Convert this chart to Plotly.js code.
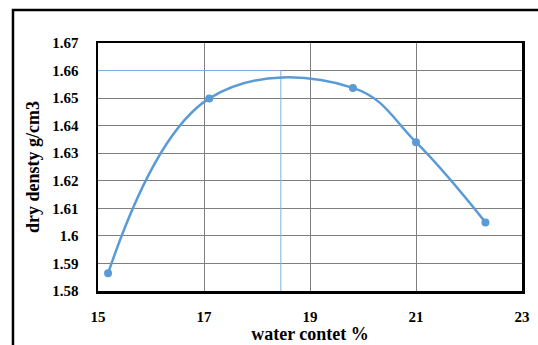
<!DOCTYPE html>
<html>
<head>
<meta charset="utf-8">
<script src="https://cdn.plot.ly/plotly-3.0.1.min.js"></script>
<style>
  html, body { margin: 0; padding: 0; background: #ffffff; }
  #chart { width: 538px; height: 345px; }
</style>
</head>
<body>
<div id="chart"></div>
<script>
// Compaction test: water content (%) vs dry density (g/cm3)
const waterContent = [15.19, 17.10, 19.81, 21.00, 22.31];
const dryDensity = [1.5864, 1.6499, 1.6537, 1.6340, 1.6049];

// Optimum water content and maximum dry density
const optimumWater = [18.45];
const maxDensity = [1.66];

const xTicks = [15, 17, 19, 21, 23];
const yTicks = [1.58, 1.59, 1.6, 1.61, 1.62, 1.63, 1.64, 1.65, 1.66, 1.67];
const yTickText = ['1.58', '1.59', '1.6', '1.61', '1.62', '1.63', '1.64', '1.65', '1.66', '1.67'];

const blue = '#5B9BD5';
const serif = 'Liberation Serif, Times New Roman, serif';

const traces = [
  {
    // guide lines to the optimum point
    x: [xTicks[0], optimumWater[0], optimumWater[0]],
    y: [maxDensity[0], maxDensity[0], yTicks[0]],
    mode: 'lines',
    line: { color: '#7fb0e0', width: 1 },
    hoverinfo: 'skip',
    showlegend: false
  },
  {
    x: waterContent,
    y: dryDensity,
    mode: 'lines+markers',
    line: { color: blue, width: 2.5, shape: 'spline', smoothing: 1.15 },
    marker: { color: blue, size: 8 },
    showlegend: false
  }
];

const layout = {
  width: 538,
  height: 345,
  margin: { l: 98, r: 16, t: 43, b: 54 },
  paper_bgcolor: '#ffffff',
  plot_bgcolor: '#ffffff',
  font: { family: serif, color: '#000000', size: 14 },
  xaxis: {
    range: [15, 23],
    tickvals: xTicks,
    ticktext: xTicks.map(String),
    tickfont: { family: serif, size: 15, weight: 'bold' },
    showgrid: true,
    gridcolor: '#7f7f7f',
    gridwidth: 1,
    zeroline: false,
    showline: true,
    mirror: true,
    linecolor: '#000000',
    linewidth: 2.5,
    ticks: '',
    ticklabelstandoff: 10,
    title: { text: 'water contet %', font: { family: serif, size: 18, weight: 'bold' }, standoff: 1 }
  },
  yaxis: {
    range: [1.58, 1.67],
    tickvals: yTicks,
    ticktext: yTickText,
    tickfont: { family: serif, size: 15, weight: 'bold' },
    showgrid: true,
    gridcolor: '#7f7f7f',
    gridwidth: 1,
    zeroline: false,
    showline: true,
    mirror: true,
    linecolor: '#000000',
    linewidth: 2.5,
    ticks: '',
    ticklabelstandoff: 14,
    title: { text: 'dry densty g/cm3', font: { family: serif, size: 18, weight: 'bold' }, standoff: 8 }
  },
  shapes: [
    {
      // outer chart frame (top and left edges)
      type: 'path',
      xref: 'paper', yref: 'paper',
      path: 'M -0.2005,-0.4 L -0.2005,1.133 L 1.2,1.133',
      line: { color: '#000000', width: 2.5 },
      layer: 'above'
    }
  ]
};

Plotly.newPlot('chart', traces, layout, { displayModeBar: false, staticPlot: true });
</script>
</body>
</html>
